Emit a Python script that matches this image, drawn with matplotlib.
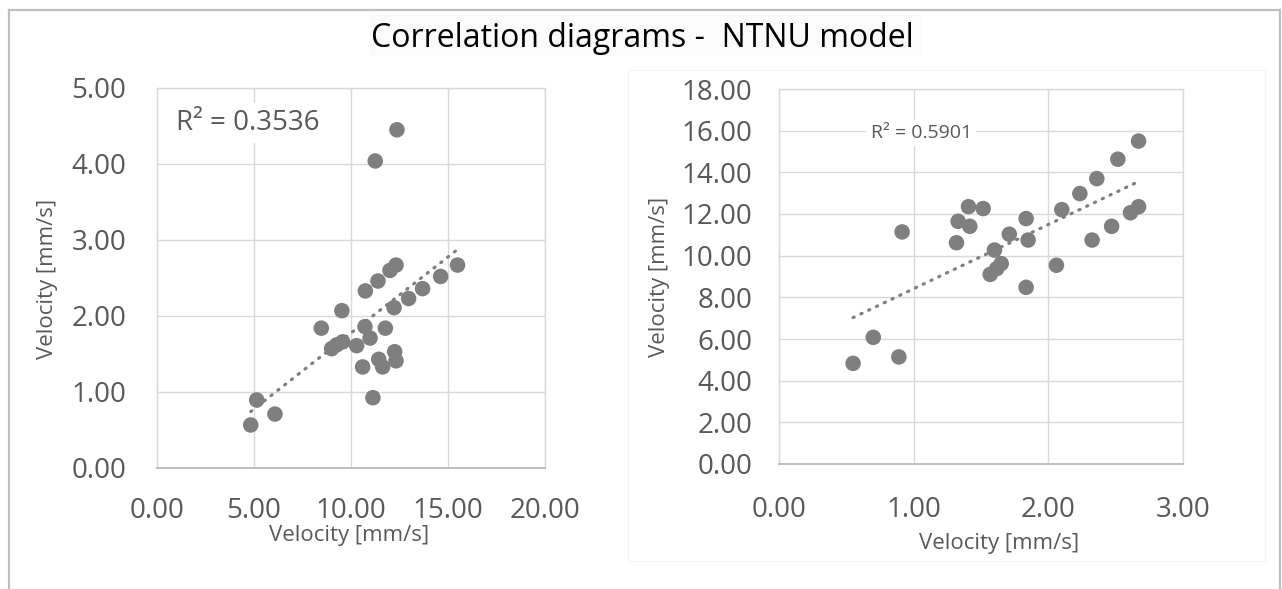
import numpy as np
import matplotlib
matplotlib.use("Agg")
import matplotlib.pyplot as plt
from matplotlib.patches import Rectangle
from matplotlib.lines import Line2D

# ---------------- data ----------------
left_x = [15.49, 14.62, 13.69, 12.97, 12.22, 12.32, 12.01, 11.39, 10.74, 9.53,
          11.77, 10.72, 8.47, 10.98, 10.29, 9.57, 9.26, 9.00, 12.25, 12.32,
          11.43, 11.63, 10.60, 11.13, 6.08, 5.14, 4.83, 12.37, 11.25]
left_y = [2.67, 2.52, 2.36, 2.23, 2.11, 2.67, 2.60, 2.46, 2.33, 2.07,
          1.84, 1.86, 1.84, 1.71, 1.61, 1.66, 1.62, 1.57, 1.53, 1.41,
          1.43, 1.33, 1.33, 0.925, 0.71, 0.895, 0.566, 4.45, 4.04]

right_x = [2.67, 2.516, 2.36, 2.234, 2.10, 2.67, 2.61, 2.47, 2.325, 2.06,
           1.835, 1.85, 1.835, 1.71, 1.60, 1.65, 1.617, 1.568, 1.516, 1.407,
           1.417, 1.33, 1.318, 0.914, 0.70, 0.89, 0.55]
right_y = [15.5, 14.63, 13.7, 12.98, 12.21, 12.35, 12.06, 11.41, 10.75, 9.54,
           11.78, 10.75, 8.48, 11.03, 10.27, 9.62, 9.38, 9.10, 12.26, 12.35,
           11.41, 11.65, 10.62, 11.14, 6.08, 5.14, 4.83]

left_xticks = [0, 5, 10, 15, 20]
left_yticks = [0, 1, 2, 3, 4, 5]
right_xticks = [0, 1, 2, 3]
right_yticks = [0, 2, 4, 6, 8, 10, 12, 14, 16, 18]

title = "Correlation diagrams -  NTNU model"
axis_label = "Velocity [mm/s]"
left_r2 = "R² = 0.3536"
right_r2 = "R² = 0.5901"

# ---------------- style ----------------
plt.rcParams['font.family'] = ['Open Sans', 'DejaVu Sans']
W, H = 1282, 589
fig = plt.figure(figsize=(W / 100, H / 100), dpi=100)
fig.patch.set_facecolor('white')

TXT = '#595959'
GRID = '#d9d9d9'
MARK = '#7f7f7f'


def px(x, y):
    return x / W, 1 - y / H


# right chart faint chart-area
fig.patches.append(Rectangle(px(628, 561), (1265 - 628) / W, (561 - 70) / H,
                             transform=fig.transFigure, facecolor='white',
                             edgecolor='#f5f5f5', lw=0.8, zorder=-5))
# faint title box
fig.patches.append(Rectangle(px(370, 56), (922 - 370) / W, (56 - 14) / H,
                             transform=fig.transFigure, facecolor='#fbfbfb',
                             edgecolor='none', zorder=-5))

# outer border (top, left, right)
for xs, ys in [((9, 1280), (10, 10)), ((9, 9), (10, 600)), ((1280, 1280), (10, 600))]:
    fig.lines.append(Line2D([x / W for x in xs], [1 - y / H for y in ys],
                            transform=fig.transFigure, color='#bfbfbf', lw=1.6,
                            zorder=-4))


def make_axes(l, r, t, b):
    x0, y0 = px(l, b)
    ax = fig.add_axes([x0, y0, (r - l) / W, (b - t) / H])
    ax.set_zorder(2)
    ax.patch.set_alpha(0)
    return ax


def style(ax, xticks, yticks, xfmt_pad, yfmt_pad):
    ax.set_xlim(xticks[0], xticks[-1])
    ax.set_ylim(yticks[0], yticks[-1])
    ax.set_xticks(xticks)
    ax.set_yticks(yticks)
    ax.set_xticklabels([f"{v:.2f}" for v in xticks])
    ax.set_yticklabels([f"{v:.2f}" for v in yticks])
    ax.grid(True, color=GRID, lw=1.0, zorder=0)
    ax.set_axisbelow(True)
    for s in ['left', 'right', 'top']:
        ax.spines[s].set_color(GRID)
        ax.spines[s].set_linewidth(1.0)
    ax.spines['bottom'].set_color('#bfbfbf')
    ax.spines['bottom'].set_linewidth(1.4)
    ax.tick_params(axis='x', length=0, pad=xfmt_pad, labelsize=20, labelcolor=TXT)
    ax.tick_params(axis='y', length=0, pad=yfmt_pad, labelsize=20, labelcolor=TXT)


def scatter_with_trend(ax, x, y):
    x = np.asarray(x)
    y = np.asarray(y)
    k, c = np.polyfit(x, y, 1)
    xs = np.array([x.min(), x.max()])
    ax.scatter(x, y, s=125, color=MARK, edgecolors='none', zorder=3)
    ax.plot(xs, k * xs + c, color=MARK, lw=2.3, linestyle=(0, (0.4, 2.3)),
            dash_capstyle='round', zorder=4)


# left chart
axL = make_axes(157, 545, 88, 468)
style(axL, left_xticks, left_yticks, 21, 22)
scatter_with_trend(axL, left_x, left_y)
axL.text(1.0, 4.54, left_r2, fontsize=20, color=TXT, va='center', ha='left',
         bbox=dict(facecolor='white', edgecolor='none', pad=4), zorder=5)

# right chart
axR = make_axes(779, 1183, 89, 464)
style(axR, right_xticks, right_yticks, 23, 19)
scatter_with_trend(axR, right_x, right_y)
axR.text(0.68, 15.9, right_r2, fontsize=14, color=TXT, va='center', ha='left',
         bbox=dict(facecolor='white', edgecolor='none', pad=3), zorder=5)

# titles and axis labels
fig.text(*px(642, 47), title, fontsize=23, color='black', ha='center', va='baseline')
fig.text(*px(349, 535), axis_label, fontsize=16, color=TXT, ha='center', va='center')
fig.text(*px(48, 279), axis_label, fontsize=16, color=TXT, ha='center', va='center',
         rotation=90)
fig.text(*px(999, 544), axis_label, fontsize=16, color=TXT, ha='center', va='center')
fig.text(*px(659, 277), axis_label, fontsize=16, color=TXT, ha='center', va='center',
         rotation=90)

fig.savefig('out.png', dpi=100, facecolor='white')
